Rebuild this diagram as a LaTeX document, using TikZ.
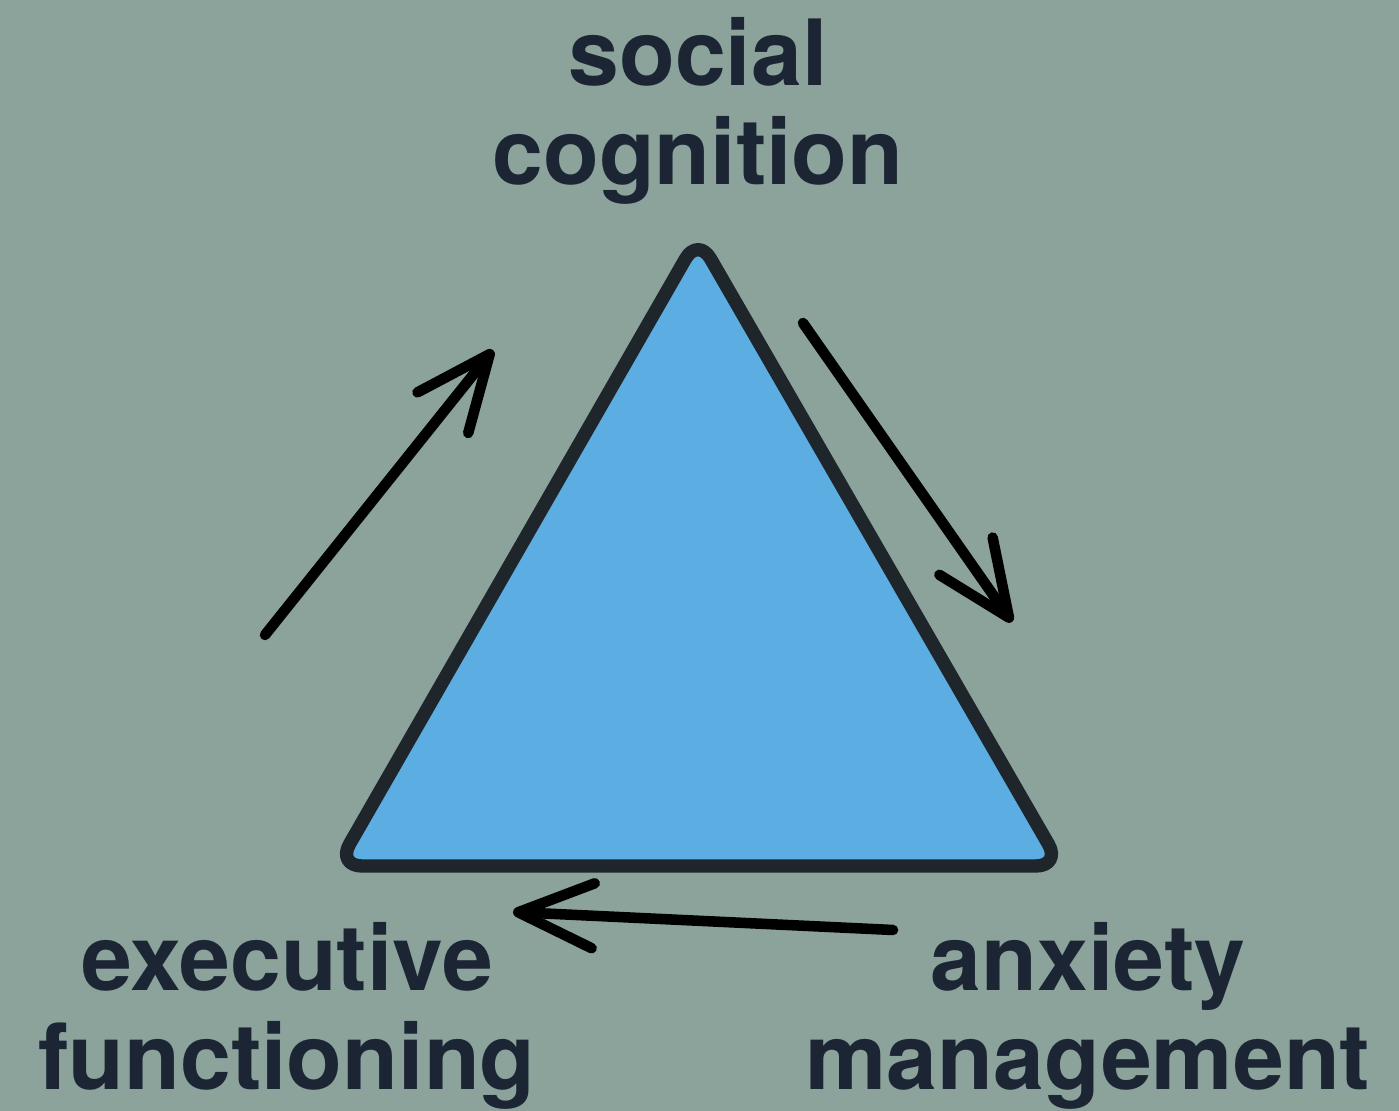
\documentclass[tikz,border=0pt]{standalone}
\usepackage{fontspec}
\setmainfont{TeX Gyre Heros}
\usetikzlibrary{arrows.meta}

\definecolor{bgcol}{RGB}{139,163,155}
\definecolor{trifill}{RGB}{92,173,226}
\definecolor{triedge}{RGB}{30,38,44}
\definecolor{textcol}{RGB}{28,37,52}

\begin{document}
\begin{tikzpicture}[
  labelnode/.style={font=\fontsize{26}{28.45}\selectfont\bfseries, text=textcol, align=center, anchor=base, inner sep=0pt},
  flowarrow/.style={line width=3pt, line cap=round, -{Straight Barb[length=7.5mm, width=6.5mm, round]}},
  trianglepath/.style={draw=triedge, fill=trifill, line width=3.8pt, rounded corners=2.5mm, line join=round}
]

%Background
\useasboundingbox (0,0) rectangle (13.99,11.11);
\fill[bgcol] (0,0) rectangle (13.99,11.11);

%Triangle corners
\coordinate (top) at (6.98,8.74);
\coordinate (left) at (3.37,2.45);
\coordinate (right) at (10.61,2.45);
\draw[trianglepath] (top) -- (left) -- (right) -- cycle;

%Nodes
\node[labelnode] (social) at (6.98,9.26) {social\\cognition};
\node[labelnode] (executive) at (2.87,0.21) {executive\\functioning};
\node[labelnode] (anxiety) at (10.88,0.21) {anxiety\\management};

%Arrow ends
\coordinate (a1start) at (2.65,4.76);
\coordinate (a1end) at (4.93,7.61);
\coordinate (a2start) at (8.03,7.88);
\coordinate (a2end) at (10.12,4.89);
\coordinate (a3start) at (8.93,1.81);
\coordinate (a3end) at (5.13,1.99);

%line
\draw[flowarrow] (a1start) -- (a1end);
\draw[flowarrow] (a2start) -- (a2end);
\draw[flowarrow] (a3start) -- (a3end);

\end{tikzpicture}
\end{document}
